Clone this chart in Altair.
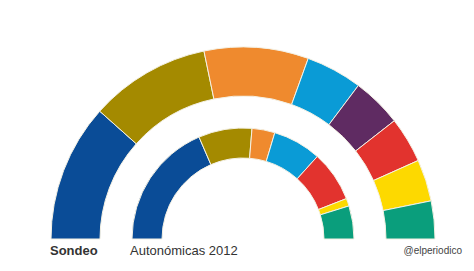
import math
import altair as alt
import pandas as pd

# Data (seats, Parlament de Catalunya, 135 seats)
outer_parties = ["CiU", "ERC", "C's", "PP", "Podemos", "PSC", "CUP", "ICV-EUiA"]
outer_seats = [31.3, 27.4, 23.7, 12.8, 11.3, 10.4, 9.5, 8.6]
outer_colors = ["#0a4c97", "#a48a00", "#ef8a2e", "#0a9bd6", "#5f2b62", "#e2332e", "#fdd900", "#0a9e7c"]

inner_parties = ["CiU", "ERC", "C's", "PP", "PSC", "CUP", "ICV-EUiA"]
inner_seats = [50, 21, 9, 19, 20, 3, 13]
inner_colors = ["#0a4c97", "#a48a00", "#ef8a2e", "#0a9bd6", "#e2332e", "#fdd900", "#0a9e7c"]

total_seats = 135
labels = ["Sondeo", "Autonómicas 2012", "@elperiodico"]


def ring_df(parties, seats, colors):
    df = pd.DataFrame({"party": parties, "seats": seats, "color": colors})
    df["end"] = df["seats"].cumsum()
    df["start"] = df["end"] - df["seats"]
    return df


theta_scale = alt.Scale(domain=[0, total_seats], range=[-math.pi / 2, math.pi / 2])
cx, cy = 243, 239


def ring(df, outer_r, inner_r):
    return alt.Chart(df).mark_arc(
        outerRadius=outer_r, innerRadius=inner_r, stroke="#f4f1e4", strokeWidth=1
    ).encode(
        theta=alt.Theta("start:Q", scale=theta_scale),
        theta2="end:Q",
        color=alt.Color("color:N", scale=None),
        x=alt.value(cx),
        y=alt.value(cy),
    )


outer = ring(ring_df(outer_parties, outer_seats, outer_colors), 192, 143)
inner = ring(ring_df(inner_parties, inner_seats, inner_colors), 111, 81)

t1 = alt.Chart(pd.DataFrame({"t": [labels[0]]})).mark_text(
    font="Liberation Sans", fontSize=13, fontWeight="bold", color="#333333",
    align="left", baseline="alphabetic"
).encode(text="t:N", x=alt.value(50), y=alt.value(255))

t2 = alt.Chart(pd.DataFrame({"t": [labels[1]]})).mark_text(
    font="Liberation Sans", fontSize=13, color="#333333",
    align="left", baseline="alphabetic"
).encode(text="t:N", x=alt.value(130), y=alt.value(255))

t3 = alt.Chart(pd.DataFrame({"t": [labels[2]]})).mark_text(
    font="Liberation Sans", fontSize=10, color="#444444",
    align="right", baseline="alphabetic"
).encode(text="t:N", x=alt.value(462), y=alt.value(254))

chart = alt.layer(outer, inner, t1, t2, t3).properties(
    width=474, height=271, padding=0, autosize=alt.AutoSizeParams(type="none"),
    background="white"
).configure_view(stroke=None)

chart.save("out.html", embed_options={"renderer": "svg", "actions": False})
